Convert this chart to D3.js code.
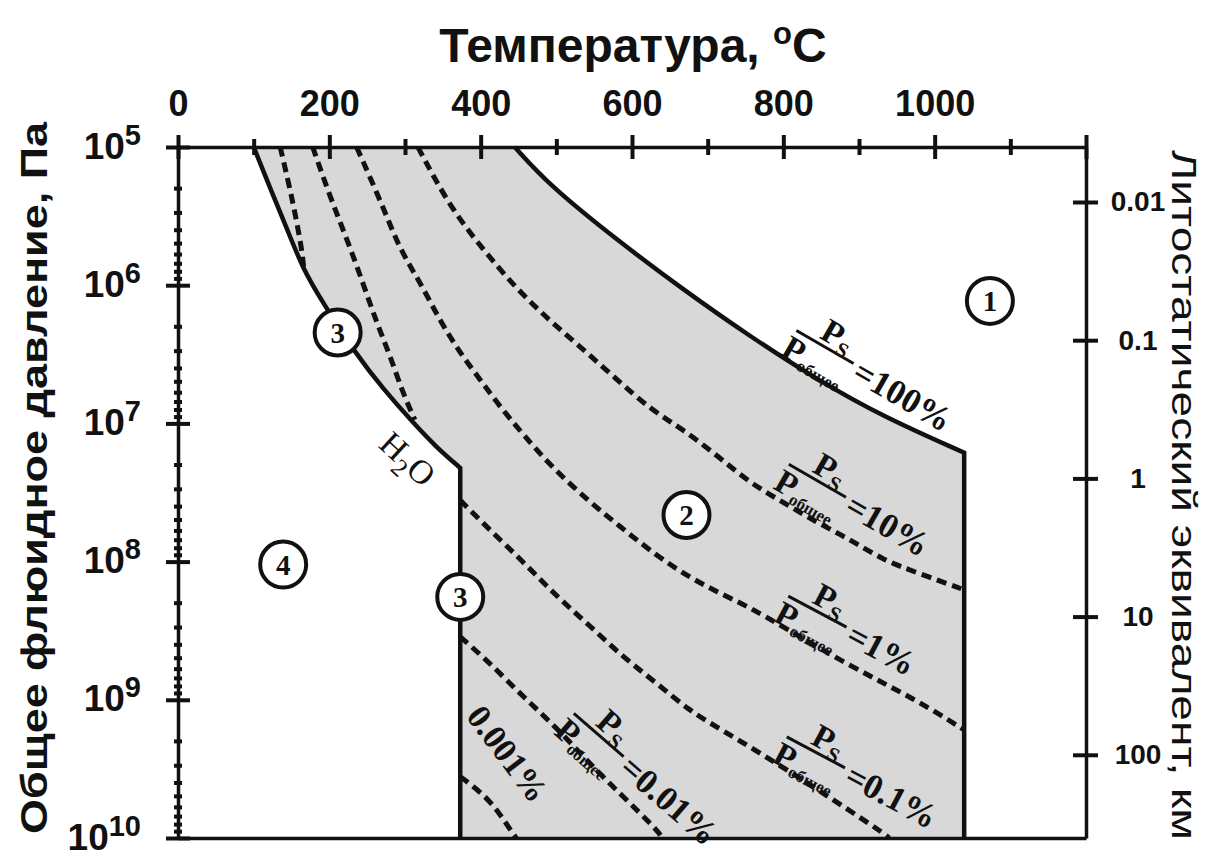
<!DOCTYPE html>
<html>
<head>
<meta charset="utf-8">
<script src="https://cdn.jsdelivr.net/npm/d3@7"></script>
<style>
body { margin: 0; background: #fff; }
text { fill: #111; }
</style>
</head>
<body>
<svg id="chart" width="1211" height="857"></svg>
<script>
// values: temperature in °C, total fluid pressure in Pa

// boiling curve of water, ends at the critical point
var waterT = [100, 122, 144, 165, 190, 236, 271, 310, 342, 373];
var waterP = [1.0e5, 2.0e5, 3.9e5, 7.6e5, 1.3e6, 3.2e6, 5.6e6, 9.8e6, 1.5e7, 2.1e7];
var critT = 373;

// Ps/Pобщее = 100% curve, then straight down
var sat100T = [445, 491, 580, 667, 756, 844, 931, 1039];
var sat100P = [1e5, 1.9e5, 4.7e5, 1.07e6, 2.35e6, 4.8e6, 8.9e6, 1.63e7];

// dashed isolines
var isoA_T = [135, 148, 157, 164, 166];
var isoA_P = [1e5, 2e5, 3.5e5, 5.7e5, 7.4e5];
var isoB_T = [178, 201, 223, 244, 263, 280, 297, 313];
var isoB_P = [1e5, 2.3e5, 4.6e5, 9.5e5, 1.9e6, 3.2e6, 6.0e6, 9.4e6];
var iso1_T = [236, 271, 293, 320, 346, 373, 399, 425, 456, 495, 544, 588, 633, 676, 712, 756, 799, 888, 976, 1039];
var iso1_P = [1e5, 2.7e5, 5.5e5, 9.5e5, 1.8e6, 3.1e6, 4.8e6, 7.5e6, 1.2e7, 2.1e7, 3.7e7, 5.8e7, 9.1e7, 1.3e8, 1.65e8, 2.15e8, 2.95e8, 5.7e8, 1.0e9, 1.65e9];
var iso10_T = [317, 359, 403, 448, 491, 535, 580, 624, 667, 712, 756, 799, 844, 888, 931, 976, 1039];
var iso10_P = [1e5, 2.7e5, 5.5e5, 1.07e6, 1.8e6, 2.9e6, 4.8e6, 7.9e6, 1.1e7, 1.7e7, 2.7e7, 3.7e7, 5.2e7, 6.9e7, 9.7e7, 1.2e8, 1.6e8];
var iso01_T = [373, 412, 456, 501, 544, 588, 633, 676, 712, 799, 865, 931, 940];
var iso01_P = [3.6e7, 5.9e7, 1.0e8, 1.8e8, 2.9e8, 4.9e8, 7.6e8, 1.2e9, 1.57e9, 3.05e9, 5.25e9, 9.1e9, 1e10];
var iso001_T = [373, 412, 456, 501, 544, 588, 633, 640];
var iso001_P = [3.5e8, 5.4e8, 9.5e8, 1.6e9, 2.9e9, 5.0e9, 8.7e9, 1e10];
var iso0001_T = [373, 412, 439, 447];
var iso0001_P = [3.6e9, 5.2e9, 8.7e9, 1e10];

// axes
var tempTicks = d3.range(0, 1201, 100);
var tempLabels = [0, 200, 400, 600, 800, 1000];
var pressTicks = [1e5, 1e6, 1e7, 1e8, 1e9, 1e10];
var depthTicks = [0.01, 0.1, 1, 10, 100];
var paPerKm = 2.5e7;

// numbered fields
var fieldNames = ["1", "2", "3", "3", "4"];
var fieldT = [1073, 672, 211, 373, 139];
var fieldP = [1.3e6, 4.6e7, 2.2e6, 1.8e8, 1.05e8];

// Ps/Pобщее labels
var ratioNames = ["=100%", "=10%", "=1%", "=0.1%", "=0.01%"];
var ratioT = [855, 845, 845, 843, 556];
var ratioP = [2.8e6, 2.6e7, 2.3e8, 2.4e9, 1.8e9];
var ratioAngle = [30, 30, 28, 28, 41];

var svg = d3.select("#chart");
var sans = "'Liberation Sans', Arial, sans-serif";
var serif = "'Liberation Serif', 'Times New Roman', serif";
var ink = "#111";

var x = d3.scaleLinear().domain([0, 1200]).range([178, 1086]);
var y = d3.scaleLog().domain([1e5, 1e10]).range([147, 838]);
var km = d3.scaleLog().domain([1e5 / paPerKm, 1e10 / paPerKm]).range([147, 838]);

var line = d3.line()
    .x(function(d) { return x(d[0]); })
    .y(function(d) { return y(d[1]); })
    .curve(d3.curveBasis);

// gray field between the water curve and the 100% curve
var water = d3.zip(waterT, waterP);
var sat100 = d3.zip(sat100T, sat100P);
var back = line(sat100.slice().reverse()).replace(/^M/, "L");
var area = line(water) +
    "L" + x(critT) + "," + y(1e10) +
    "L" + x(sat100T[sat100T.length - 1]) + "," + y(1e10) +
    back + "Z";
svg.append("path").attr("d", area).attr("fill", "#d8d8d8");

// dashed isolines
var isolines = [
    d3.zip(isoA_T, isoA_P), d3.zip(isoB_T, isoB_P), d3.zip(iso1_T, iso1_P),
    d3.zip(iso10_T, iso10_P), d3.zip(iso01_T, iso01_P), d3.zip(iso001_T, iso001_P),
    d3.zip(iso0001_T, iso0001_P)
];
svg.selectAll("path.iso")
    .data(isolines)
    .enter()
    .append("path")
    .attr("class", "iso")
    .attr("d", line)
    .attr("fill", "none")
    .attr("stroke", ink)
    .attr("stroke-width", 5)
    .attr("stroke-dasharray", "10,6");

// solid boundaries
svg.append("path")
    .attr("d", line(water) + "L" + x(critT) + "," + y(1e10))
    .attr("fill", "none").attr("stroke", ink).attr("stroke-width", 4.5);
svg.append("path")
    .attr("d", line(sat100) + "L" + x(sat100T[sat100T.length - 1]) + "," + y(1e10))
    .attr("fill", "none").attr("stroke", ink).attr("stroke-width", 4.5);

// top axis: temperature
var gTop = svg.append("g")
    .attr("transform", "translate(0," + y(1e5) + ")")
    .call(d3.axisTop(x).tickValues(tempTicks).tickSizeOuter(0)
        .tickFormat(function(d) { return tempLabels.indexOf(d) >= 0 ? d : ""; }));
gTop.select(".domain").attr("stroke", ink).attr("stroke-width", 3.5);
gTop.selectAll(".tick line")
    .attr("stroke", ink).attr("stroke-width", 4)
    .attr("y1", function(d) { return d % 200 === 0 ? 12 : 8; })
    .attr("y2", function(d) { return d % 200 === 0 ? -12 : -8; });
gTop.selectAll(".tick text")
    .attr("y", -31).attr("dy", null)
    .attr("font-family", sans).attr("font-weight", "bold").attr("font-size", 36);

// left axis: pressure
var gLeft = svg.append("g")
    .attr("transform", "translate(" + x(0) + ",0)")
    .call(d3.axisLeft(y).tickValues(pressTicks).tickSizeOuter(0));
gLeft.select(".domain").attr("stroke", ink).attr("stroke-width", 3.5);
gLeft.selectAll(".tick line")
    .attr("stroke", ink).attr("stroke-width", 4)
    .attr("x1", -12).attr("x2", 12);
gLeft.selectAll(".tick text")
    .attr("x", -37).attr("dy", "0.3em")
    .attr("font-family", sans).attr("font-weight", "bold").attr("font-size", 37)
    .each(function(d) {
        var t = d3.select(this);
        t.text(null);
        t.append("tspan").text("10");
        t.append("tspan").attr("dy", -14).attr("font-size", 29).text(Math.round(Math.log10(d)));
    });

// minor ticks on the pressure axis
var minorP = [];
pressTicks.slice(0, -1).forEach(function(p) {
    for (var k = 2; k <= 9; k++) minorP.push(p * k);
});
gLeft.selectAll("line.minor")
    .data(minorP)
    .enter()
    .append("line")
    .attr("class", "minor")
    .attr("x1", -4).attr("x2", 4)
    .attr("y1", function(d) { return y(d); })
    .attr("y2", function(d) { return y(d); })
    .attr("stroke", ink).attr("stroke-width", 4);

// bottom frame line
var gBottom = svg.append("g")
    .attr("transform", "translate(0," + y(1e10) + ")")
    .call(d3.axisBottom(x).tickValues([]).tickSizeOuter(0));
gBottom.select(".domain").attr("stroke", ink).attr("stroke-width", 3.5);

// right axis: lithostatic depth
var gRight = svg.append("g")
    .attr("transform", "translate(" + x(1200) + ",0)")
    .call(d3.axisRight(km).tickValues(depthTicks).tickSizeOuter(0).tickFormat(d3.format("~g")));
gRight.select(".domain").attr("stroke", ink).attr("stroke-width", 3.5);
gRight.selectAll(".tick line")
    .attr("stroke", ink).attr("stroke-width", 4)
    .attr("x1", -13).attr("x2", 12);
gRight.selectAll(".tick text")
    .attr("x", 52).attr("text-anchor", "middle")
    .attr("font-family", sans).attr("font-weight", "bold").attr("font-size", 28);

// axis titles
var title = svg.append("text")
    .attr("x", 633).attr("y", 62)
    .attr("text-anchor", "middle")
    .attr("font-family", sans).attr("font-weight", "bold").attr("font-size", 48);
title.append("tspan").text("Температура, ");
title.append("tspan").attr("dy", -18).attr("font-size", 31).text("o");
title.append("tspan").attr("dy", 18).text("C");

svg.append("text")
    .attr("transform", "translate(47,478) rotate(-90)")
    .attr("text-anchor", "middle")
    .attr("font-family", sans).attr("font-weight", "bold").attr("font-size", 37)
    .attr("textLength", 712).attr("lengthAdjust", "spacingAndGlyphs")
    .text("Общее флюидное давление, Па");

svg.append("text")
    .attr("transform", "translate(1172,495) rotate(90)")
    .attr("text-anchor", "middle")
    .attr("font-family", sans).attr("font-size", 35)
    .attr("textLength", 690).attr("lengthAdjust", "spacingAndGlyphs")
    .text("Литостатический эквивалент, км");

// Ps / Pобщее labels
var ratio = svg.selectAll("g.ratio")
    .data(d3.range(ratioNames.length))
    .enter()
    .append("g")
    .attr("class", "ratio")
    .attr("transform", function(i) {
        return "translate(" + x(ratioT[i]) + "," + y(ratioP[i]) + ") rotate(" + ratioAngle[i] + ")";
    })
    .attr("font-family", serif).attr("font-weight", "bold");
ratio.append("line")
    .attr("x1", -33).attr("x2", 33)
    .attr("stroke", ink).attr("stroke-width", 3);
var num = ratio.append("text").attr("x", 6).attr("y", -5).attr("text-anchor", "middle").attr("font-size", 34);
num.append("tspan").text("P");
num.append("tspan").attr("dy", 6).attr("font-size", 21).text("S");
var den = ratio.append("text").attr("x", -2).attr("y", 29).attr("text-anchor", "middle").attr("font-size", 34);
den.append("tspan").text("P");
den.append("tspan").attr("dy", 5).attr("font-size", 17).text("общее");
ratio.append("text")
    .attr("x", 38).attr("y", 15)
    .attr("font-size", 35)
    .text(function(i) { return ratioNames[i]; });

// 0.001% and H2O labels
svg.append("text")
    .attr("transform", "translate(" + x(436) + "," + y(2.45e9) + ") rotate(53)")
    .attr("text-anchor", "middle").attr("dy", "0.35em")
    .attr("font-family", serif).attr("font-weight", "bold").attr("font-size", 34)
    .text("0.001%");
var h2o = svg.append("text")
    .attr("transform", "translate(" + x(304) + "," + y(1.8e7) + ") rotate(43)")
    .attr("text-anchor", "middle").attr("dy", "0.35em")
    .attr("font-family", serif).attr("font-size", 34);
h2o.append("tspan").text("H");
h2o.append("tspan").attr("dy", 9).attr("font-size", 25).text("2");
h2o.append("tspan").attr("dy", -9).text("O");

// numbered circles
var field = svg.selectAll("g.field")
    .data(d3.range(fieldNames.length))
    .enter()
    .append("g")
    .attr("class", "field")
    .attr("transform", function(i) { return "translate(" + x(fieldT[i]) + "," + y(fieldP[i]) + ")"; });
field.append("circle")
    .attr("r", 23)
    .attr("fill", "#fff").attr("stroke", ink).attr("stroke-width", 4);
field.append("text")
    .attr("text-anchor", "middle").attr("dy", "0.35em")
    .attr("font-family", serif).attr("font-weight", "bold").attr("font-size", 29)
    .text(function(i) { return fieldNames[i]; });
</script>
</body>
</html>
